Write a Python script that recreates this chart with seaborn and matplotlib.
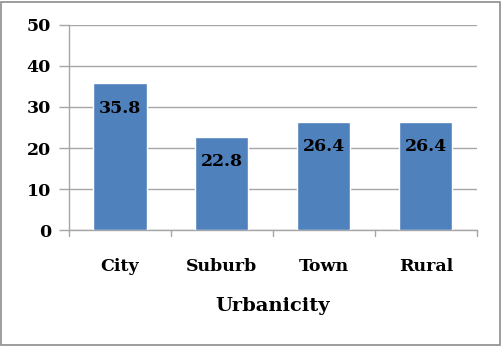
import matplotlib
matplotlib.use("Agg")
import matplotlib.pyplot as plt
import seaborn as sns
import pandas as pd
from matplotlib.patches import Rectangle

categories = ["City", "Suburb", "Town", "Rural"]
values = [35.8, 22.8, 26.4, 26.4]
y_ticks = [0, 10, 20, 30, 40, 50]

sns.set_theme(style="white")
plt.rcParams["font.family"] = ["DejaVu Serif"]
plt.rcParams["font.weight"] = "bold"
plt.rcParams["text.color"] = "black"
plt.rcParams["xtick.color"] = "black"
plt.rcParams["ytick.color"] = "black"
plt.rcParams["axes.labelcolor"] = "black"

df = pd.DataFrame({"Urbanicity": categories, "Value": values})

fig = plt.figure(figsize=(5.02, 3.46), dpi=100)
ax = fig.add_axes([0.1375, 0.335, 0.8125, 0.593])

grid_c = "#A6A6A6"
sns.barplot(data=df, x="Urbanicity", y="Value", color="#4F81BD", saturation=1,
            width=0.52, ax=ax, zorder=3)

ax.set_ylim(0, 50)
ax.set_xlim(-0.5, len(categories) - 0.5)
ax.set_yticks(y_ticks)
ax.set_yticklabels([str(t) for t in y_ticks], fontsize=12.5, fontweight="bold")
ax.yaxis.grid(True, color=grid_c, linewidth=1.0, zorder=0)
ax.set_axisbelow(True)

# category labels between boundary ticks
ax.set_xticks(range(len(categories)))
ax.set_xticklabels(categories, fontsize=12.5, fontweight="bold")
ax.tick_params(axis="x", length=0, pad=20, labelcolor="black")
ax.tick_params(axis="y", length=7, width=1, color=grid_c, pad=6, left=True,
               labelcolor="black")
for b in [i - 0.5 for i in range(len(categories) + 1)]:
    ax.plot([b, b], [0, -0.03], transform=ax.get_xaxis_transform(),
            color=grid_c, lw=1, clip_on=False)

ax.set_xlabel("Urbanicity", fontsize=14, fontweight="bold", labelpad=16,
              color="black")
ax.set_ylabel("")

for s in ["top", "right"]:
    ax.spines[s].set_visible(False)
for s in ["left", "bottom"]:
    ax.spines[s].set_color(grid_c)
    ax.spines[s].set_linewidth(1.0)

for i, v in enumerate(values):
    ax.annotate(f"{v}", (i, v), xytext=(0, -18), textcoords="offset points",
                ha="center", va="center", fontsize=12.5, fontweight="bold",
                color="black", zorder=4)

fig.patches.append(Rectangle((0.002, 0.004), 0.994, 0.99, transform=fig.transFigure,
                             fill=False, edgecolor="#8C8C8C", linewidth=1.2))

fig.savefig("out.png", dpi=100)
